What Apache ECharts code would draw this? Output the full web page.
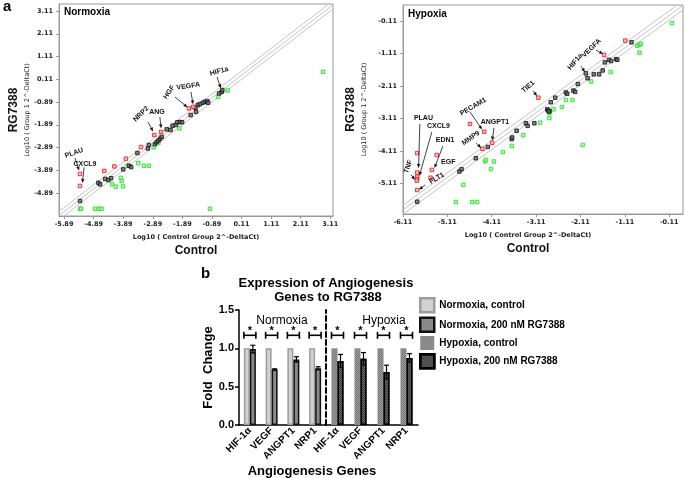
<!DOCTYPE html>
<html><head><meta charset="utf-8">
<script src="https://cdn.jsdelivr.net/npm/echarts@6/dist/echarts.min.js"></script>
<style>html,body{margin:0;padding:0;background:#fff}#c{width:685px;height:478px}</style>
</head><body><div id="c"></div><script>
// ---------- Panel a : Normoxia scatter (x = log10 control, y = log10 RG7388) ----------
const normUp = [[-5.35,-4.05],[-5.35,-4.58],[-4.53,-3.92],[-4.19,-3.72],[-3.80,-3.38],[-3.29,-2.87],[-2.84,-2.34],[-2.61,-2.20],[-1.67,-1.17],[-1.52,-1.10]];
const normNone = [[-5.35,-5.24],[-4.73,-4.44],[-4.67,-4.51],[-4.50,-4.27],[-4.39,-4.32],[-4.30,-4.24],[-3.89,-3.85],[-3.69,-3.69],[-3.62,-3.75],[-3.41,-3.13],[-3.06,-2.93],[-3.02,-2.78],[-2.82,-2.74],[-2.76,-2.65],[-2.70,-2.58],[-2.64,-2.50],[-2.59,-2.42],[-2.42,-2.09],[-2.29,-2.12],[-2.22,-1.93],[-2.11,-1.90],[-2.06,-1.78],[-1.97,-1.77],[-1.90,-1.78],[-1.61,-1.46],[-1.43,-1.32],[-1.45,-1.14],[-1.37,-1.02],[-1.30,-0.98],[-1.20,-0.92],[-1.13,-0.88],[-1.05,-0.85],[-1.02,-0.92],[-0.65,-0.51],[-0.56,-0.44],[-0.54,-0.36]];
const normDown = [[-5.35,-5.58],[-5.31,-5.58],[-4.84,-5.58],[-4.70,-5.58],[-4.62,-5.58],[-0.96,-5.58],[-3.97,-4.22],[-3.94,-4.36],[-4.26,-4.51],[-4.14,-4.61],[-3.90,-4.60],[-3.74,-3.69],[-3.38,-3.58],[-3.19,-3.69],[-3.02,-3.69],[-2.85,-2.88],[-2.70,-2.69],[-1.99,-2.05],[-0.68,-0.66],[-0.36,-0.38],[2.87,0.44]];
const normTicksX = [-5.89,-4.89,-3.89,-2.89,-1.89,-0.89,0.11,1.11,2.11,3.11];
const normTicksY = [-4.89,-3.89,-2.89,-1.89,-0.89,0.11,1.11,2.11,3.11];
const normBoundary = [0, 0.18, 0.36];
// annotation: [labelX, labelY, tailX, tailY, headX, headY, rotationDeg]
const normAnnNames = ['PLAU','CXCL9','NRP2','ANG','HGF','VEGFA','HIF1a'];
const normAnn = [[-5.55,-3.13,-5.52,-3.35,-5.38,-3.90,20],[-5.18,-3.62,-5.21,-3.76,-5.27,-4.45,0],[-3.29,-1.42,-3.05,-1.77,-2.88,-2.18,45],[-2.75,-1.31,-2.65,-1.55,-2.61,-2.05,0],[-2.34,-0.46,-2.14,-0.67,-1.72,-1.12,55],[-1.69,-0.19,-1.60,-0.45,-1.53,-0.99,8],[-0.65,0.46,-0.72,0.21,-0.59,-0.28,15]];

// ---------- Panel a : Hypoxia scatter ----------
const hypUp = [[-5.79,-4.18],[-5.79,-4.78],[-5.79,-4.91],[-5.79,-4.98],[-5.80,-5.03],[-5.79,-5.32],[-5.46,-4.70],[-5.49,-4.94],[-5.35,-4.24],[-4.32,-4.05],[-4.10,-3.86],[-4.28,-3.52],[-4.60,-3.28],[-3.06,-2.47],[-1.58,-1.15],[-1.10,-0.71]];
const hypNone = [[-5.79,-5.68],[-4.84,-4.75],[-4.79,-4.68],[-4.47,-4.34],[-4.20,-3.99],[-3.66,-3.75],[-3.65,-3.70],[-3.55,-3.49],[-3.34,-3.26],[-3.30,-3.34],[-3.15,-3.26],[-2.81,-2.88],[-2.86,-2.83],[-2.84,-2.87],[-2.82,-2.90],[-2.78,-2.61],[-2.68,-2.47],[-2.44,-2.31],[-2.41,-2.35],[-2.27,-2.25],[-2.23,-2.29],[-2.17,-2.05],[-1.99,-1.72],[-1.95,-1.87],[-1.81,-1.75],[-1.69,-1.75],[-1.61,-1.63],[-1.56,-1.38],[-1.47,-1.30],[-1.42,-1.34],[-1.31,-1.28],[-1.28,-1.30],[-0.96,-0.76]];
const hypDown = [[-4.75,-5.16],[-4.92,-5.69],[-4.55,-5.69],[-4.44,-5.69],[-4.26,-4.44],[-4.24,-4.39],[-4.06,-4.44],[-4.13,-4.67],[-3.86,-4.15],[-3.66,-3.96],[-3.40,-3.63],[-3.02,-3.24],[-2.81,-3.10],[-2.81,-2.95],[-2.06,-3.93],[-2.72,-2.83],[-2.53,-2.76],[-2.44,-2.54],[-2.29,-2.54],[-1.87,-1.97],[-1.43,-1.68],[-0.83,-0.87],[-0.78,-0.83],[-0.75,-0.81],[-0.78,-1.08],[-0.05,-0.17]];
const hypTicksX = [-6.11,-5.11,-4.11,-3.11,-2.11,-1.11,-0.11];
const hypTicksY = [-5.11,-4.11,-3.11,-2.11,-1.11,-0.11];
const hypBoundary = [0.04, 0.18, 0.32];
const hypAnnNames = ['TIE1','HIF1a','VEGFA','PLAU','CXCL9','EDN1','EGF','FLT1','TNF','MMP9','ANGPT1','PECAM1'];
const hypAnn = [[-3.29,-2.13,-3.18,-2.26,-3.09,-2.42,40],[-2.23,-1.36,-2.10,-1.49,-2.01,-1.68,50],[-1.86,-0.94,-1.76,-1.00,-1.60,-1.12,45],[-5.65,-3.10,-5.73,-3.28,-5.76,-4.64,0],[-5.31,-3.36,-5.46,-3.53,-5.74,-4.88,0],[-5.16,-3.77,-5.21,-3.96,-5.40,-4.64,0],[-5.09,-4.47,-5.09,-4.47,-5.09,-4.47,0],[-5.35,-4.96,-5.61,-5.16,-5.75,-5.31,30],[-5.99,-4.60,-5.93,-4.85,-5.84,-5.00,70],[-4.58,-3.72,-4.46,-3.87,-4.35,-4.02,35],[-4.04,-3.23,-4.06,-3.40,-4.10,-3.79,0],[-4.53,-2.75,-4.60,-2.91,-4.33,-3.45,30]];

// ---------- Panel b : bar chart ----------
const genes = ['HIF-1\u03b1','VEGF','ANGPT1','NRP1'];
const normCtrl = [1.0,1.0,1.0,1.0];
const normRG = [0.99,0.725,0.855,0.74];
const normRGErr = [0.05,0.008,0.035,0.02];
const hypCtrl = [1.0,1.0,1.0,1.0];
const hypRG = [0.835,0.865,0.69,0.875];
const hypRGErr = [0.085,0.08,0.09,0.055];
const sigLevel = [1.17,1.17,1.17,1.17];
const sigMark = ['*','*','*','*'];

const FF = '"Liberation Sans", Arial, sans-serif';
const FD = '"DejaVu Sans", sans-serif';

function annotRender(names){
  return function(params, api){
    const t = api.coord([api.value(0), api.value(1)]);
    const f = api.coord([api.value(2), api.value(3)]);
    const h = api.coord([api.value(4), api.value(5)]);
    const rot = api.value(6) * Math.PI / 180;
    const children = [];
    const dx = h[0]-f[0], dy = h[1]-f[1];
    if (Math.hypot(dx, dy) > 2) {
      const ang = Math.atan2(dy, dx), L = 4, W = 1.7;
      const bx = h[0]-L*Math.cos(ang), by = h[1]-L*Math.sin(ang);
      children.push({type:'line', shape:{x1:f[0],y1:f[1],x2:bx,y2:by}, style:{stroke:'#111', lineWidth:0.8}});
      children.push({type:'polygon', shape:{points:[[h[0],h[1]],[bx+W*Math.sin(ang),by-W*Math.cos(ang)],[bx-W*Math.sin(ang),by+W*Math.cos(ang)]]}, style:{fill:'#111'}});
    }
    children.push({type:'text', x:t[0], y:t[1], rotation:rot, style:{text:names[params.dataIndex], font:'bold 7px ' + FF, fill:'#111', align:'center', verticalAlign:'middle'}});
    return {type:'group', children};
  };
}
function errRender(params, api){
  const i = api.value(0), v = api.value(1), e = api.value(2);
  const top = api.coord([i, v+e]), bot = api.coord([i, v-e]);
  const x = top[0] + 3, c = 2.5;
  const st = {stroke:'#000', lineWidth:1.2};
  return {type:'group', children:[
    {type:'line', shape:{x1:x,y1:top[1],x2:x,y2:bot[1]}, style:st},
    {type:'line', shape:{x1:x-c,y1:top[1],x2:x+c,y2:top[1]}, style:st},
    {type:'line', shape:{x1:x-c,y1:bot[1],x2:x+c,y2:bot[1]}, style:st}
  ]};
}
function bracketRender(params, api){
  const p = api.coord([api.value(0), api.value(1)]);
  const hw = 6, ch = 3.5;
  const st = {stroke:'#000', lineWidth:1.6};
  return {type:'group', children:[
    {type:'line', shape:{x1:p[0]-hw,y1:p[1],x2:p[0]+hw,y2:p[1]}, style:st},
    {type:'line', shape:{x1:p[0]-hw,y1:p[1]-ch,x2:p[0]-hw,y2:p[1]+ch}, style:st},
    {type:'line', shape:{x1:p[0]+hw,y1:p[1]-ch,x2:p[0]+hw,y2:p[1]+ch}, style:st},
    {type:'text', x:p[0], y:p[1]+1, style:{text:sigMark[params.dataIndex], font:'bold 11px ' + FF, fill:'#000', align:'center', verticalAlign:'bottom'}}
  ]};
}
function boundaryLines(offsets, gi){
  return offsets.map(c => ({type:'line', xAxisIndex:gi, yAxisIndex:gi, data:[[-8,-8+c],[5,5+c]], symbol:'none', silent:true, clip:true, z:1, lineStyle:{color:'#c4c4c4', width:1}}));
}
function scatter(data, gi, fill, border){
  return {type:'scatter', xAxisIndex:gi, yAxisIndex:gi, data, symbol:'rect', symbolSize:3.5, z:3, itemStyle:{color:fill, borderColor:border, borderWidth:1}};
}
function scatterX(min, max, ticks, gap, pad){
  return {type:'value', min, max,
    name:'{a|Log10 ( Control Group 2^-DeltaCt)}\n{b|Control}', nameLocation:'middle', nameGap:gap,
    nameTextStyle:{padding:pad, rich:{a:{fontFamily:FD, fontSize:6.5, fontWeight:'bold', color:'#222', lineHeight:11}, b:{fontFamily:FF, fontSize:12, fontWeight:'bold', color:'#111', lineHeight:15}}},
    axisLine:{show:true, onZero:false, lineStyle:{color:'#999'}}, splitLine:{show:false},
    axisTick:{customValues:ticks, length:3, lineStyle:{color:'#999'}},
    axisLabel:{customValues:ticks, formatter:v=>v.toFixed(2), fontFamily:FD, fontSize:6.5, fontWeight:'bold', color:'#222', margin:5}};
}
function scatterY(min, max, ticks, gap){
  return {type:'value', min, max,
    name:'{b|RG7388}\n{a|Log10 ( Group 1 2^-DeltaCt)}', nameLocation:'middle', nameGap:gap,
    nameTextStyle:{rich:{a:{fontFamily:FD, fontSize:6.5, color:'#222', lineHeight:10}, b:{fontFamily:FF, fontSize:12, fontWeight:'bold', color:'#111', lineHeight:16}}},
    axisLine:{show:true, onZero:false, lineStyle:{color:'#999'}}, splitLine:{show:false},
    axisTick:{customValues:ticks, length:3, lineStyle:{color:'#999'}},
    axisLabel:{customValues:ticks, formatter:v=>v.toFixed(2), fontFamily:FD, fontSize:6.5, fontWeight:'bold', color:'#222', margin:6}};
}
const decalChk = {symbol:'rect', symbolSize:1, dashArrayX:[[1,1],[0,1,1,0]], dashArrayY:[1,0], color:'rgba(255,255,255,0.22)'};

const xA0 = scatterX(-6.06, 3.20, normTicksX, 16, [0,0,0,0]); xA0.gridIndex = 0;
const xA1 = scatterX(-6.11, 0.20, hypTicksX, 16, [0,30,0,0]); xA1.gridIndex = 1;
const yA0 = scatterY(-5.90, 3.42, normTicksY, 27); yA0.gridIndex = 0;
const yA1 = scatterY(-6.06, 0.39, hypTicksY, 34); yA1.gridIndex = 1;

const barX = gi => ({type:'category', gridIndex:gi, data:genes, axisTick:{show:false},
  axisLine:{lineStyle:{color:'#000', width:1.5}},
  axisLabel:{interval:0, rotate:45, fontFamily:FF, fontWeight:'bold', fontSize:10, color:'#000', margin:4}});
const barY2 = {type:'value', gridIndex:2, min:0, max:1.5, interval:0.5, splitLine:{show:false},
  name:'Fold  Change', nameLocation:'middle', nameGap:24, nameTextStyle:{fontFamily:FF, fontWeight:'bold', fontSize:13, color:'#000'},
  axisLine:{show:true, lineStyle:{color:'#000', width:1.5}}, axisTick:{show:true, length:4, lineStyle:{color:'#000', width:1.5}},
  axisLabel:{formatter:v=>v.toFixed(1), fontFamily:FF, fontWeight:'bold', fontSize:11, color:'#000', margin:5}};
const barY3 = {type:'value', gridIndex:3, min:0, max:1.5, interval:0.5, splitLine:{show:false},
  axisLine:{show:true, lineStyle:{color:'#000', width:2, type:[5,3]}}, axisTick:{show:false}, axisLabel:{show:false}};

const series = [].concat(
  boundaryLines(normBoundary, 0),
  boundaryLines(hypBoundary, 1),
  [scatter(normDown, 0, '#8cff8c', '#2ed62e'), scatter(normNone, 0, '#666', '#111'), scatter(normUp, 0, '#ffb0b0', '#e8141e'),
   scatter(hypDown, 1, '#8cff8c', '#2ed62e'), scatter(hypNone, 1, '#666', '#111'), scatter(hypUp, 1, '#ffb0b0', '#e8141e'),
   {type:'custom', xAxisIndex:0, yAxisIndex:0, data:normAnn, renderItem:annotRender(normAnnNames), z:5, silent:true, encode:{x:0,y:1}},
   {type:'custom', xAxisIndex:1, yAxisIndex:1, data:hypAnn, renderItem:annotRender(hypAnnNames), z:5, silent:true, encode:{x:0,y:1}},
   {name:'Normoxia, control', type:'bar', xAxisIndex:2, yAxisIndex:2, data:normCtrl, barWidth:6, barGap:'0%', itemStyle:{color:'#d2d2d2', borderColor:'#9c9c9c', borderWidth:1.5}},
   {name:'Normoxia, 200 nM RG7388', type:'bar', xAxisIndex:2, yAxisIndex:2, data:normRG, barWidth:6, barGap:'0%', itemStyle:{color:'#8a8a8a', borderColor:'#111', borderWidth:1.5}},
   {name:'Hypoxia, control', type:'bar', xAxisIndex:3, yAxisIndex:3, data:hypCtrl, barWidth:6, barGap:'0%', itemStyle:{color:'#7c7c7c', decal:decalChk}},
   {name:'Hypoxia, 200 nM RG7388', type:'bar', xAxisIndex:3, yAxisIndex:3, data:hypRG, barWidth:6, barGap:'0%', itemStyle:{color:'#3a3a3a', borderColor:'#000', borderWidth:1.5, decal:decalChk}},
   {type:'custom', xAxisIndex:2, yAxisIndex:2, data:genes.map((g,i)=>[i, normRG[i], normRGErr[i]]), renderItem:errRender, z:6, silent:true},
   {type:'custom', xAxisIndex:3, yAxisIndex:3, data:genes.map((g,i)=>[i, hypRG[i], hypRGErr[i]]), renderItem:errRender, z:6, silent:true},
   {type:'custom', xAxisIndex:2, yAxisIndex:2, data:genes.map((g,i)=>[i, sigLevel[i]]), renderItem:bracketRender, z:6, silent:true},
   {type:'custom', xAxisIndex:3, yAxisIndex:3, data:genes.map((g,i)=>[i, sigLevel[i]]), renderItem:bracketRender, z:6, silent:true}]
);

const txt = (x, y, text, font, align) => ({type:'text', x, y, style:{text, font, fill:'#000', align:align||'left', verticalAlign:'middle'}});

const option = {
  animation:false,
  backgroundColor:'#fff',
  grid:[
    {left:59, top:4, width:274, height:212, show:true, borderColor:'#999', borderWidth:1, containLabel:false},
    {left:403, top:5, width:280, height:209, show:true, borderColor:'#999', borderWidth:1, containLabel:false},
    {left:239, top:310, width:87, height:115, containLabel:false},
    {left:326, top:310, width:92, height:115, containLabel:false}
  ],
  xAxis:[xA0, xA1, barX(2), barX(3)],
  yAxis:[yA0, yA1, barY2, barY3],
  legend:{orient:'vertical', left:414, top:292, itemWidth:14, itemHeight:14, itemGap:3, selectedMode:false,
    textStyle:{fontFamily:FF, fontWeight:'bold', fontSize:10, color:'#000'},
    data:[
      {name:'Normoxia, control', icon:'rect', itemStyle:{color:'#d2d2d2', borderColor:'#9c9c9c', borderWidth:2.5}},
      {name:'Normoxia, 200 nM RG7388', icon:'rect', itemStyle:{color:'#8a8a8a', borderColor:'#111', borderWidth:2.5}},
      {name:'Hypoxia, control', icon:'rect', itemStyle:{color:'#7c7c7c', borderWidth:0}},
      {name:'Hypoxia, 200 nM RG7388', icon:'rect', itemStyle:{color:'#3a3a3a', borderColor:'#000', borderWidth:2.5}}
    ]},
  graphic:[
    txt(3, 7, 'a', 'bold 15px ' + FF),
    txt(201, 274, 'b', 'bold 15px ' + FF),
    txt(64, 12, 'Normoxia', 'bold 10px ' + FF),
    txt(408, 14, 'Hypoxia', 'bold 10px ' + FF),
    txt(326, 283, 'Expression of Angiogenesis', 'bold 13px ' + FF, 'center'),
    txt(328, 297, 'Genes to RG7388', 'bold 13px ' + FF, 'center'),
    txt(282, 321, 'Normoxia', '12px ' + FF, 'center'),
    txt(384, 321, 'Hypoxia', '12px ' + FF, 'center'),
    txt(312, 471, 'Angiogenesis Genes', 'bold 13px ' + FF, 'center')
  ],
  series
};
const chart = echarts.init(document.getElementById('c'), null, {renderer:'canvas', width:685, height:478});
chart.setOption(option);
</script></body></html>
